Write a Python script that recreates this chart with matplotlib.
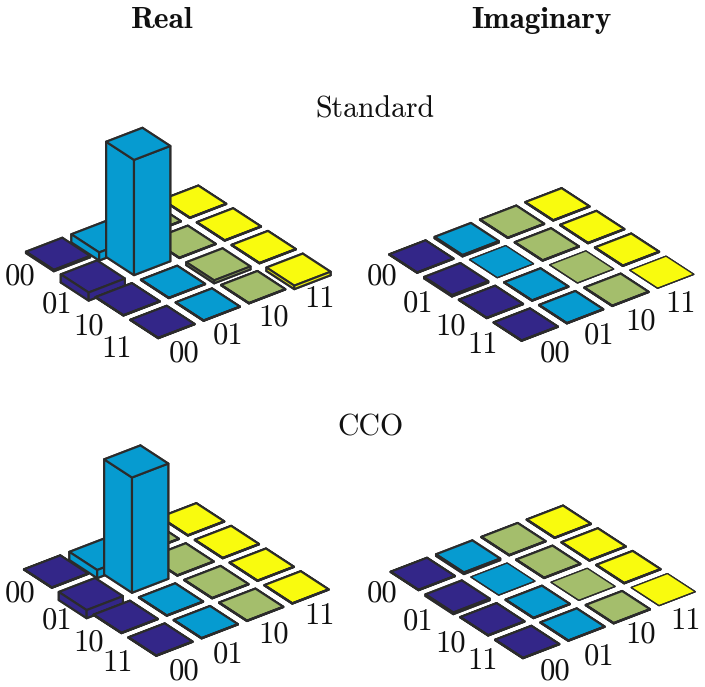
import matplotlib
matplotlib.use('Agg')
import matplotlib.pyplot as plt
import numpy as np
from mpl_toolkits.mplot3d import proj3d

W, H = 705, 687

col_colors = ['#332688', '#069bd0', '#a4be6c', '#f9fb0e']
edge = '#2b2b2b'
tick_labels = ['00', '01', '10', '11']

# density matrix values, rows then columns
real_standard = [[-0.012, -0.07, -0.003, -0.003],
                 [-0.07, 1.0, -0.003, -0.003],
                 [-0.003, -0.003, -0.025, -0.003],
                 [-0.003, -0.003, -0.003, -0.03]]
imag_standard = [[-0.003, -0.012, -0.003, -0.003],
                 [-0.012, 0.0, -0.003, -0.003],
                 [-0.003, -0.003, 0.0, -0.003],
                 [-0.003, -0.003, -0.003, 0.0]]
real_cco = [[-0.003, -0.07, -0.003, -0.003],
            [-0.07, 1.0, -0.003, -0.003],
            [-0.003, -0.003, -0.003, -0.003],
            [-0.003, -0.003, -0.003, -0.003]]
imag_cco = [[-0.003, -0.014, -0.003, -0.003],
            [-0.014, 0.0, -0.003, -0.003],
            [-0.003, -0.003, 0.0, -0.003],
            [-0.003, -0.003, -0.003, 0.0]]


def project(ax, x, y, z):
    ax.apply_aspect()
    px, py, _ = proj3d.proj_transform(x, y, z, ax.get_proj())
    return ax.transData.transform((px, py))


def place_axes(ax, corner, unit=34.8):
    """Scale and shift the axes so cell corner (0.1, 0.1, 0) lands on a pixel."""
    size = 400.0
    x0, y0 = 100.0, 100.0
    ax.set_position([x0 / W, y0 / H, size / W, size / H])
    for _ in range(3):
        a = project(ax, 0, 0, 0)
        b = project(ax, 1, 0, 0)
        size = size * unit / (b[0] - a[0])
        ax.set_position([x0 / W, y0 / H, size / W, size / H])
        p = project(ax, 0.1, 0.1, 0)
        x0 += corner[0] - p[0]
        y0 += (H - corner[1]) - p[1]
        ax.set_position([x0 / W, y0 / H, size / W, size / H])


def draw_panel(fig, values, corner, row_pos, col_pos):
    ax = fig.add_axes([0, 0, 1, 1], projection='3d', proj_type='ortho')
    ax.patch.set_alpha(0)
    values = np.array(values)
    rows, cols = np.meshgrid(range(4), range(4), indexing='ij')
    thin = values == 0
    for mask, lw in ((~thin, 1.55), (thin, 0.9)):
        if not mask.any():
            continue
        ax.bar3d(rows[mask] + 0.1, cols[mask] + 0.1, np.zeros(mask.sum()),
                 0.8, 0.8, values[mask],
                 color=[col_colors[c] for c in cols[mask]],
                 edgecolor=edge, linewidth=lw, shade=False)
    ax.set_xlim(0, 4, view_margin=0)
    ax.set_ylim(0, 4, view_margin=0)
    ax.set_zlim(-0.1, 1.0, view_margin=0)
    ax.set_box_aspect((4, 4, 2.56))
    ax.view_init(elev=30, azim=-37.5)
    ax.set_axis_off()
    place_axes(ax, corner)
    for lab, (x, y) in zip(tick_labels * 2, row_pos + col_pos):
        fig.text(x / W, 1 - (y + 1.5) / H, lab, fontsize=tick_size, family=serif,
                 ha='center', va='center', color='#111111')
    return ax


serif = ['cmr10', 'DejaVu Serif']
bold = ['cmb10', 'DejaVu Serif']
tick_size = 22

fig = plt.figure(figsize=(W / 100, H / 100), dpi=100)

draw_panel(fig, real_standard, (26, 251.7),
           [(20.5, 275.7), (56.7, 303), (89, 325.7), (117, 348)],
           [(183.7, 352.7), (227.7, 334), (274, 316.7), (319.3, 298)])
draw_panel(fig, imag_standard, (389.3, 254.3),
           [(382.3, 275), (418.3, 302.7), (451, 325), (482.3, 343.3)],
           [(554.7, 352.7), (599.3, 334), (641, 320), (681, 302.7)])
draw_panel(fig, real_cco, (24, 569.3),
           [(20.3, 592.7), (56.7, 619), (89, 641.7), (117.3, 661.7)],
           [(183.7, 670), (227.7, 653.3), (274, 633.3), (319.3, 614.3)])
draw_panel(fig, imag_cco, (390.7, 571.7),
           [(382.3, 592.7), (418.3, 620), (451, 642.7), (482.3, 660)],
           [(554.7, 670), (599.3, 655.7), (641, 633.3), (685.7, 620)])

fig.text(162 / W, 1 - 27.7 / H, 'Real', fontsize=22.5, family=bold, ha='center', va='baseline', color='#111111')
fig.text(541.7 / W, 1 - 27.7 / H, 'Imaginary', fontsize=22.5, family=bold, ha='center', va='baseline', color='#111111')
fig.text(375 / W, 1 - 118 / H, 'Standard', fontsize=21.5, family=serif, ha='center', va='baseline', color='#111111')
fig.text(370 / W, 1 - 435 / H, 'CCO', fontsize=21.5, family=serif, ha='center', va='baseline', color='#111111')

fig.savefig('out.png', dpi=100)
